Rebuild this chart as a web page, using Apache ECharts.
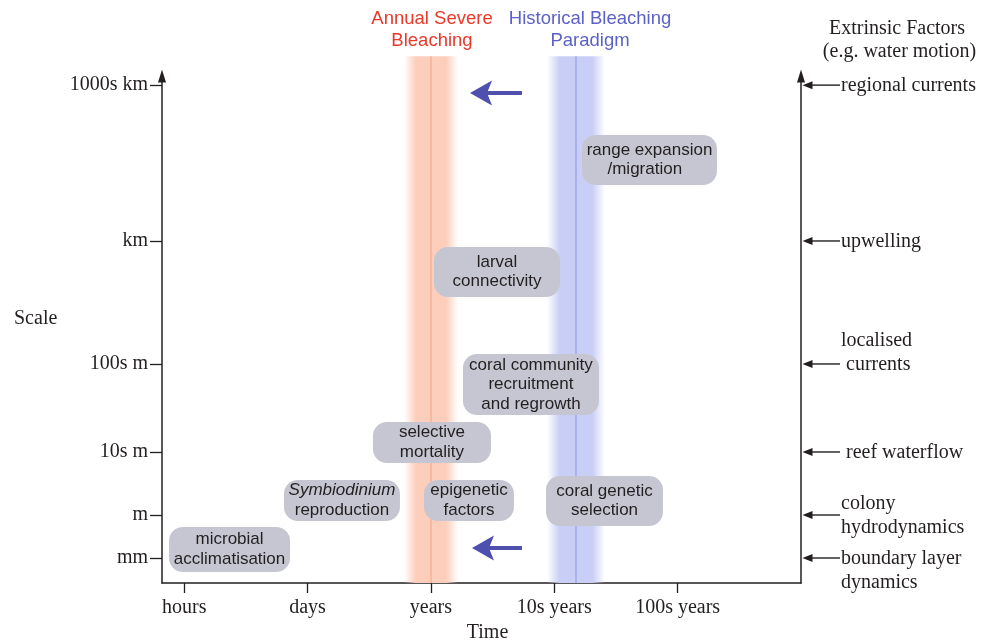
<!DOCTYPE html>
<html>
<head>
<meta charset="utf-8">
<script src="https://cdn.jsdelivr.net/npm/echarts@6/dist/echarts.min.js"></script>
<style>
  html, body { margin: 0; padding: 0; background: #ffffff; }
  #chart { width: 1003px; height: 643px; }
</style>
</head>
<body>
<div id="chart"></div>
<script>
// ---------- data ----------
// Time axis (ordinal positions 1..5)
const timeTickValues = [1, 2, 3, 4, 5];
const timeTickLabels = ['hours', 'days', 'years', '10s years', '100s years'];
const X_MIN = 0.82, X_MAX = 6.0;

// Scale axis (conceptual position 0..100)
const scaleTickValues = [4.93, 13.41, 25.84, 43.2, 67.46, 98.2];
const scaleTickLabels = ['mm', 'm', '10s m', '100s m', 'km', '1000s km'];
const Y_MIN = 0, Y_MAX = 100;

// Process boxes: time span (x0..x1) and scale span (y0..y1)
const boxLabels = [
  'microbial\nacclimatisation',
  '{i|Symbiodinium}\nreproduction',
  'epigenetic\nfactors',
  'selective\nmortality',
  'coral community\nrecruitment\nand regrowth',
  'coral genetic\nselection',
  'larval\nconnectivity',
  'range expansion\n/migration  '
];
const boxX0 = [0.877, 1.809, 2.944, 2.530, 3.260, 3.933, 3.025, 4.225];
const boxX1 = [1.858, 2.749, 3.673, 3.487, 4.362, 4.881, 4.046, 5.319];
const boxY0 = [2.17, 12.23, 12.23, 23.67, 33.14, 11.24, 56.41, 78.50];
const boxY1 = [11.05, 20.32, 20.32, 31.76, 45.17, 21.10, 66.27, 88.36];

// Bleaching bands (time extent and centre)
const bandNames = ['Annual Severe\nBleaching', 'Historical Bleaching\nParadigm'];
const bandStart = [2.782, 3.941];
const bandEnd = [3.220, 4.411];
const bandCentre = [3.001, 4.176];
const bandTop = 103.9;

// Shift arrows (from historical towards annual)
const shiftFromX = [3.738, 3.738];
const shiftToX = [3.317, 3.333];
const shiftY = [96.65, 6.90];

// Extrinsic factors (right side), at the scale ticks
const factorLabels = [
  'boundary layer\ndynamics',
  'colony\nhydrodynamics',
  ' reef waterflow',
  'localised\n currents',
  'upwelling',
  'regional currents'
];
const factorAnchor = ['first', 'mid', 'mid', 'last', 'mid', 'mid'];

// ---------- styles ----------
const INK = '#231f20';
const SERIF = '"Liberation Serif", "Times New Roman", serif';
const SANS = '"Liberation Sans", Arial, sans-serif';
const BOX_FILL = '#c5c6d1';
const BAND_COLORS = [[253, 206, 188], [200, 206, 245]];
const BAND_LINE = ['#f7ad92', '#98a3e6'];
const TITLE_COLORS = ['#e8392a', '#5c61c6'];
const ARROW_BLUE = '#4f4fae';

const chart = echarts.init(document.getElementById('chart'), null, { renderer: 'canvas' });

function rgba(c, a) { return 'rgba(' + c[0] + ',' + c[1] + ',' + c[2] + ',' + a + ')'; }

const option = {
  backgroundColor: '#ffffff',
  animation: false,
  grid: { left: 162, right: 202, top: 76, bottom: 60, containLabel: false, outerBoundsMode: 'none' },
  xAxis: {
    type: 'value', min: X_MIN, max: X_MAX,
    name: 'Time', nameLocation: 'middle', nameGap: 40,
    nameTextStyle: { fontFamily: SERIF, fontSize: 20, color: INK, padding: [0, 0, 0, 12] },
    axisLine: { show: true, lineStyle: { color: INK, width: 1.5 } },
    axisTick: { show: true, customValues: timeTickValues, length: 10, lineStyle: { color: INK, width: 1.3 } },
    axisLabel: {
      show: true, customValues: timeTickValues, margin: 15,
      fontFamily: SERIF, fontSize: 20, color: INK,
      formatter: function (v) { const i = timeTickValues.indexOf(v); return i >= 0 ? timeTickLabels[i] : ''; }
    },
    splitLine: { show: false }
  },
  yAxis: [{
    type: 'value', min: Y_MIN, max: Y_MAX, position: 'left',
    axisLine: { show: true, symbol: ['none', 'triangle'], symbolSize: [8, 13], lineStyle: { color: INK, width: 1.5 } },
    axisTick: { show: true, customValues: scaleTickValues, length: 12, lineStyle: { color: INK, width: 1.3 } },
    axisLabel: {
      show: true, customValues: scaleTickValues, margin: 14, padding: [4, 0, 0, 0],
      fontFamily: SERIF, fontSize: 20, color: INK,
      formatter: function (v) { const i = scaleTickValues.indexOf(v); return i >= 0 ? scaleTickLabels[i] : ''; }
    },
    splitLine: { show: false }
  }, {
    type: 'value', min: Y_MIN, max: Y_MAX, position: 'right',
    axisLine: { show: true, onZero: false, symbol: ['none', 'triangle'], symbolSize: [8, 13], lineStyle: { color: INK, width: 1.5 } },
    axisTick: { show: false }, axisLabel: { show: false }, splitLine: { show: false }
  }],
  graphic: [
    { type: 'text', x: 432, y: 30, z: 10, style: { text: bandNames[0], font: '18.5px ' + SANS, fill: TITLE_COLORS[0], align: 'center', verticalAlign: 'middle', textAlign: 'center', textVerticalAlign: 'middle', lineHeight: 22 } },
    { type: 'text', x: 590, y: 30, z: 10, style: { text: bandNames[1], font: '18.5px ' + SANS, fill: TITLE_COLORS[1], align: 'center', verticalAlign: 'middle', textAlign: 'center', textVerticalAlign: 'middle', lineHeight: 22 } },
    { type: 'text', x: 897, y: 40, z: 10, style: { text: 'Extrinsic Factors\n (e.g. water motion)', font: '20px ' + SERIF, fill: INK, align: 'center', verticalAlign: 'middle', textAlign: 'center', textVerticalAlign: 'middle', lineHeight: 23 } },
    { type: 'text', x: 14, y: 319, z: 10, style: { text: 'Scale', font: '20px ' + SERIF, fill: INK, align: 'left', verticalAlign: 'middle', textAlign: 'left', textVerticalAlign: 'middle' } }
  ],
  series: [
    // bleaching bands
    {
      type: 'custom', coordinateSystem: 'cartesian2d', clip: false, z: 1, silent: true,
      encode: { x: [0, 1, 2], y: 3 },
      data: bandStart.map(function (s, i) { return [s, bandEnd[i], bandCentre[i], bandTop]; }),
      renderItem: function (params, api) {
        const i = params.dataIndex;
        const p0 = api.coord([api.value(0), api.value(3)]);
        const p1 = api.coord([api.value(1), Y_MIN]);
        const pc = api.coord([api.value(2), Y_MIN]);
        const c = BAND_COLORS[i];
        const grad = new echarts.graphic.LinearGradient(0, 0, 1, 0, [
          { offset: 0, color: rgba(c, 0) },
          { offset: 0.22, color: rgba(c, 1) },
          { offset: 0.78, color: rgba(c, 1) },
          { offset: 1, color: rgba(c, 0) }
        ]);
        return {
          type: 'group', children: [
            { type: 'rect', shape: { x: p0[0], y: p0[1], width: p1[0] - p0[0], height: p1[1] - p0[1] }, style: { fill: grad } },
            { type: 'line', shape: { x1: pc[0], y1: p0[1], x2: pc[0], y2: p1[1] }, style: { stroke: BAND_LINE[i], lineWidth: 1.3 } }
          ]
        };
      }
    },
    // process boxes
    {
      type: 'custom', coordinateSystem: 'cartesian2d', clip: false, z: 3, silent: true,
      encode: { x: [0, 1], y: [2, 3] },
      data: boxX0.map(function (x0, i) { return [x0, boxX1[i], boxY0[i], boxY1[i]]; }),
      renderItem: function (params, api) {
        const i = params.dataIndex;
        const pTL = api.coord([api.value(0), api.value(3)]);
        const pBR = api.coord([api.value(1), api.value(2)]);
        return {
          type: 'rect',
          shape: { x: pTL[0], y: pTL[1], width: pBR[0] - pTL[0], height: pBR[1] - pTL[1], r: 14 },
          style: { fill: BOX_FILL },
          textContent: {
            style: {
              text: boxLabels[i], font: '17px ' + SANS, fill: INK,
              align: 'center', verticalAlign: 'middle', lineHeight: 19.5,
              rich: { i: { font: 'italic 17px ' + SANS, fill: INK, lineHeight: 19.5 } }
            }
          },
          textConfig: { position: 'inside' }
        };
      }
    },
    // shift arrows
    {
      type: 'custom', coordinateSystem: 'cartesian2d', clip: false, z: 4, silent: true,
      encode: { x: [0, 1], y: 2 },
      data: shiftFromX.map(function (x0, i) { return [x0, shiftToX[i], shiftY[i]]; }),
      renderItem: function (params, api) {
        const pTail = api.coord([api.value(0), api.value(2)]);
        const pTip = api.coord([api.value(1), api.value(2)]);
        const tx = pTip[0], ty = pTip[1];
        return {
          type: 'group', children: [
            { type: 'line', shape: { x1: tx + 14, y1: ty, x2: pTail[0], y2: ty }, style: { stroke: ARROW_BLUE, lineWidth: 4 } },
            { type: 'polygon', shape: { points: [[tx, ty], [tx + 22, ty - 12.5], [tx + 17, ty], [tx + 22, ty + 12.5]] }, style: { fill: ARROW_BLUE } }
          ]
        };
      }
    },
    // extrinsic factor arrows & labels
    {
      type: 'custom', coordinateSystem: 'cartesian2d', clip: false, z: 4, silent: true,
      encode: { x: 0, y: 1 },
      data: scaleTickValues.map(function (v) { return [X_MAX, v]; }),
      renderItem: function (params, api) {
        const i = params.dataIndex;
        const p = api.coord([api.value(0), api.value(1)]);
        const tipX = p[0] + 1.5, tailX = p[0] + 39, py = p[1];
        const LH = 24;
        let ty = py;
        if (factorAnchor[i] === 'first') ty = py + LH / 2;
        else if (factorAnchor[i] === 'last') ty = py - LH / 2;
        return {
          type: 'group', children: [
            { type: 'line', shape: { x1: tipX + 8, y1: py, x2: tailX, y2: py }, style: { stroke: INK, lineWidth: 1.4 } },
            { type: 'polygon', shape: { points: [[tipX, py], [tipX + 10, py - 4], [tipX + 10, py + 4]] }, style: { fill: INK } },
            { type: 'text', x: tailX + 1, y: ty + 1, style: { text: factorLabels[i], font: '20px ' + SERIF, fill: INK, align: 'left', verticalAlign: 'middle', textAlign: 'left', textVerticalAlign: 'middle', lineHeight: LH } }
          ]
        };
      }
    }
  ]
};

chart.setOption(option);
</script>
</body>
</html>
